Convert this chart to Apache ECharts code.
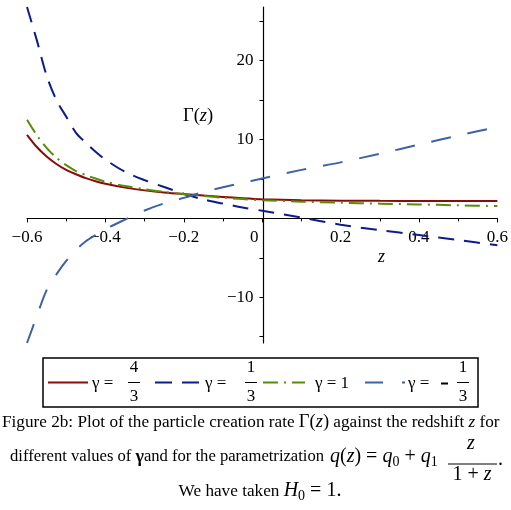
<!DOCTYPE html>
<html><head><meta charset="utf-8">
<script src="https://cdn.jsdelivr.net/npm/echarts@6/dist/echarts.min.js"></script>
<style>html,body{margin:0;padding:0;background:#fff}#c{width:511px;height:510px}</style>
</head><body><div id="c"></div>
<script>
// redshift values
var zValues = [-0.6,-0.575,-0.55,-0.525,-0.5,-0.475,-0.45,-0.425,-0.4,-0.35,-0.3,-0.25,-0.2,-0.15,-0.1,-0.05,0,0.1,0.2,0.3,0.4,0.5,0.6];
// Γ(z) for each γ
var gamma43 = [10.6,9.05,7.85,6.9,6.15,5.6,5.1,4.7,4.38,3.9,3.55,3.27,3.07,2.9,2.72,2.55,2.42,2.3,2.25,2.22,2.21,2.2,2.2];
var gamma13 = [26.8,22.6,18.1,15.0,12.9,10.85,9.6,8.45,7.45,5.9,4.85,3.97,3.12,2.4,1.88,1.37,0.97,0.1,-0.8,-1.5,-2.1,-2.75,-3.4];
var gamma1 = [12.5,10.55,8.95,7.7,6.75,6.0,5.5,5.05,4.65,4.1,3.7,3.35,3.08,2.85,2.62,2.45,2.3,2.12,1.98,1.87,1.77,1.66,1.56];
var gammaM13 = [-15.8,-12.4,-9.1,-7.1,-5.4,-4.0,-2.9,-2.1,-1.35,-0.15,1.0,1.9,2.6,3.35,3.95,4.5,5.06,6.15,7.1,8.2,9.35,10.5,11.6];
var yLabelValues = [-10,10,20];
var yTickValues = [-15,-10,-5,5,10,15,20,25];

function pairs(ys){ return zValues.map(function(z,i){ return [z, ys[i]]; }); }
var serif = '"Liberation Serif","DejaVu Serif",serif';
var cRed = '#8b0a0a', cNavy = '#0c1c8c', cGreen = '#5a8c0a', cSteel = '#3d62a6';

var X_MIN=-0.6, X_MAX=0.6, Y_MIN=-15.8, Y_MAX=26.8;
var G_L=27, G_R=11, G_T=7, G_B=167, W=511, H=510;
var plotW = W-G_L-G_R, plotH = H-G_T-G_B;
var x0px = (0-X_MIN)/(X_MAX-X_MIN)*plotW;       // distance of z=0 from left edge
var y0px = (Y_MAX-0)/(Y_MAX-Y_MIN)*plotH;        // distance of Γ=0 from top edge

var chart = echarts.init(document.getElementById('c'), null, {renderer:'canvas'});
function mkSeries(name, ys, color, dash){
  return {name:name, type:'line', data:pairs(ys), showSymbol:false, smooth:0.3,
    lineStyle:{color:color, width:2, type:dash}, emphasis:{disabled:true}, z:3};
}
function fraction(x, y, num, den){
  return [
    {type:'text', x:x, y:y-6, style:{text:num, font:'17px '+serif, fill:'#000', align:'center', verticalAlign:'bottom'}},
    {type:'line', shape:{x1:x-6, y1:y, x2:x+6, y2:y}, style:{stroke:'#000', lineWidth:1}},
    {type:'text', x:x, y:y+6, style:{text:den, font:'17px '+serif, fill:'#000', align:'center', verticalAlign:'top'}}
  ];
}
var ly = 382.5;
var legendEls = [
  {type:'rect', shape:{x:43, y:358, width:435, height:49}, style:{fill:'none', stroke:'#000', lineWidth:1.5}},
  {type:'line', shape:{x1:48, y1:ly, x2:88, y2:ly}, style:{stroke:cRed, lineWidth:2}},
  {type:'text', x:92, y:ly+1, style:{text:'γ =', font:'17px '+serif, fill:'#000', verticalAlign:'middle'}},
  {type:'line', shape:{x1:155, y1:ly, x2:200, y2:ly}, style:{stroke:cNavy, lineWidth:2, lineDash:[17,10]}},
  {type:'text', x:205, y:ly+1, style:{text:'γ =', font:'17px '+serif, fill:'#000', verticalAlign:'middle'}},
  {type:'line', shape:{x1:263, y1:ly, x2:305, y2:ly}, style:{stroke:cGreen, lineWidth:2, lineDash:[15,6,2,6]}},
  {type:'text', x:315, y:ly+1, style:{text:'γ = 1', font:'17px '+serif, fill:'#000', verticalAlign:'middle'}},
  {type:'line', shape:{x1:365, y1:ly, x2:405, y2:ly}, style:{stroke:cSteel, lineWidth:2, lineDash:[18,19]}},
  {type:'text', x:408, y:ly+1, style:{text:'γ = ', font:'17px '+serif, fill:'#000', verticalAlign:'middle'}},
  {type:'rect', shape:{x:441, y:ly, width:7, height:2}, style:{fill:'#000'}}
].concat(fraction(134, ly, '4', '3')).concat(fraction(251, ly, '1', '3')).concat(fraction(463, ly, '1', '3'));

var capRich = {
  n:{font:'17.2px '+serif, fill:'#000'},
  n2:{font:'16.6px '+serif, fill:'#000'},
  m:{font:'18.5px '+serif, fill:'#000'},
  i:{font:'italic 18.5px '+serif, fill:'#000'},
  M:{font:'20px '+serif, fill:'#000'},
  I:{font:'italic 20px '+serif, fill:'#000'},
  iz:{font:'italic 17.2px '+serif, fill:'#000'},
  g:{font:'bold 18px '+serif, fill:'#000'},
  s:{font:'13px '+serif, fill:'#000', padding:[9,0,0,0]},
  S:{font:'14px '+serif, fill:'#000', padding:[10,0,0,0]}
};
var captionEls = [
  {type:'text', x:2, y:422, style:{text:'{n|Figure 2b: Plot of the particle creation rate }{m|Γ(}{i|z}{m|)}{n| against the redshift }{iz|z}{n| for}', rich:capRich, verticalAlign:'middle'}},
  {type:'text', x:10, y:457, style:{text:'{n2|different values of }{g|γ}{n2|and for the parametrization}', rich:capRich, verticalAlign:'middle'}},
  {type:'text', x:330, y:457, style:{text:'{I|q}{M|(}{I|z}{M|) = }{I|q}{S|0}{M| + }{I|q}{S|1}', rich:capRich, verticalAlign:'middle'}},
  {type:'text', x:471, y:454, style:{text:'z', font:'italic 20px '+serif, fill:'#000', align:'center', verticalAlign:'bottom'}},
  {type:'line', shape:{x1:448, y1:464, x2:497, y2:464}, style:{stroke:'#000', lineWidth:1}},
  {type:'text', x:472, y:465, style:{text:'{M|1 + }{I|z}', rich:capRich, align:'center', verticalAlign:'top'}},
  {type:'text', x:498, y:460, style:{text:'.', font:'20px '+serif, fill:'#000', verticalAlign:'middle'}},
  {type:'text', x:260, y:491, style:{text:'{n|We have taken }{I|H}{S|0}{M| = 1.}', rich:capRich, align:'center', verticalAlign:'middle'}}
];

var option = {
  animation:false,
  backgroundColor:'#fff',
  grid:{left:G_L, right:G_R, top:G_T, bottom:G_B},
  xAxis:{type:'value', min:X_MIN, max:X_MAX, interval:0.2, position:'bottom', offset:-(plotH-y0px),
    axisLine:{show:true, onZero:false, lineStyle:{color:'#000', width:1.2}},
    axisTick:{show:true, length:4, lineStyle:{color:'#000'}},
    minorTick:{show:true, splitNumber:2, length:3, lineStyle:{color:'#000'}},
    splitLine:{show:false},
    axisLabel:{margin:11, color:'#000', fontFamily:serif, fontSize:17,
      formatter:function(v){ var r=Math.round(v*10)/10; if(r===0) return '{zero|0}'; return (r<0?'−':'')+Math.abs(r).toFixed(1); },
      rich:{zero:{fontFamily:serif, fontSize:17, color:'#000', padding:[0,16,0,0]}}}
  },
  yAxis:{type:'value', min:Y_MIN, max:Y_MAX, position:'left', offset:-x0px,
    axisLine:{show:true, onZero:false, lineStyle:{color:'#000', width:1.2}},
    axisTick:{show:true, length:4, customValues:yTickValues, lineStyle:{color:'#000'}},
    splitLine:{show:false},
    axisLabel:{margin:10, color:'#000', fontFamily:serif, fontSize:17, customValues:yLabelValues,
      formatter:function(v){ return v<0 ? '−'+(-v) : String(v); }}
  },
  series:[
    mkSeries('γ = 4/3', gamma43, cRed, 'solid'),
    mkSeries('γ = 1/3', gamma13, cNavy, [16,10]),
    mkSeries('γ = 1', gamma1, cGreen, [15,6,2,6]),
    mkSeries('γ = -1/3', gammaM13, cSteel, [20,17])
  ],
  graphic:[
    {type:'text', x:183, y:116, style:{text:'{m|Γ(}{i|z}{m|)}', rich:capRich, verticalAlign:'middle'}},
    {type:'text', x:378, y:257, style:{text:'z', font:'italic 18px '+serif, fill:'#000', verticalAlign:'middle'}}
  ].concat(legendEls).concat(captionEls)
};
chart.setOption(option);
</script>
</body></html>
